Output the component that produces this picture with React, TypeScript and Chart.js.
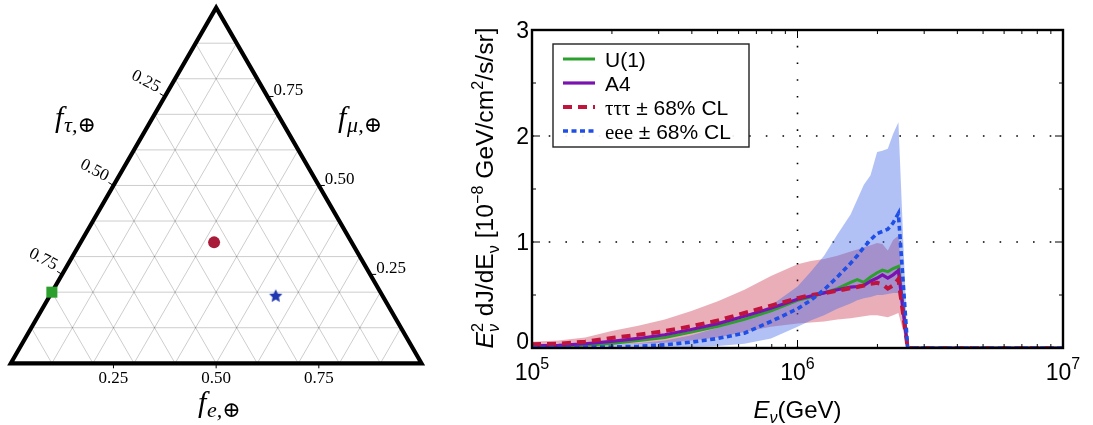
import React, { useEffect, useRef } from "react";
import { Chart, registerables } from "chart.js";

Chart.register(...registerables);

const SANS = "'Liberation Sans', Arial, sans-serif";
const SERIF = "'Liberation Serif', 'DejaVu Serif', serif";

// ---------------- Ternary (left) data ----------------
const ternaryTicks = [0.25, 0.5, 0.75];
const ternaryTickText = ["0.25", "0.50", "0.75"];
const gridSteps = [0.1, 0.2, 0.3, 0.4, 0.5, 0.6, 0.7, 0.8, 0.9];
const outlineFe = [0, 1, 0, 0, 1];
const outlineFmu = [0, 0, 1, 0, 0];
const pointNames = ["square", "circle", "star"];
const pointFe = [0.0, 0.325, 0.55];
const pointFmu = [0.2, 0.34, 0.19];
const pointFtau = [0.8, 0.335, 0.26];
const pointColors = ["#2ca02c", "#a81c3a", "#1f36b0"];

// ---------------- Spectrum (right) data ----------------
const energies = [
  1.0e5, 1.259e5, 1.585e5, 1.995e5, 2.512e5, 3.162e5, 3.981e5, 5.012e5, 6.31e5, 7.943e5,
  1.0e6, 1.122e6, 1.259e6, 1.413e6, 1.585e6, 1.679e6, 1.778e6, 1.884e6, 1.995e6, 2.089e6,
  2.188e6, 2.291e6, 2.399e6, 2.6e6, 3.162e6, 1.0e7,
];
const fluxU1 = [0.01, 0.015, 0.025, 0.043, 0.07, 0.1, 0.15, 0.205, 0.27, 0.35, 0.45, 0.48, 0.52, 0.56, 0.62, 0.645, 0.62, 0.67, 0.71, 0.735, 0.72, 0.75, 0.77, 0, 0, 0];
const fluxA4 = [0.02, 0.025, 0.04, 0.063, 0.09, 0.125, 0.175, 0.23, 0.3, 0.375, 0.46, 0.49, 0.52, 0.55, 0.575, 0.58, 0.59, 0.63, 0.66, 0.69, 0.66, 0.69, 0.73, 0, 0, 0];
const fluxTau = [0.035, 0.04, 0.06, 0.095, 0.125, 0.16, 0.205, 0.26, 0.33, 0.4, 0.47, 0.5, 0.515, 0.54, 0.565, 0.575, 0.59, 0.605, 0.615, 0.6, 0.56, 0.59, 0.65, 0, 0, 0];
const fluxEee = [0.005, 0.005, 0.008, 0.01, 0.015, 0.03, 0.055, 0.09, 0.14, 0.25, 0.37, 0.45, 0.55, 0.67, 0.8, 0.87, 0.95, 1.02, 1.08, 1.1, 1.12, 1.18, 1.27, 0, 0, 0];
const tauUpper = [0.06, 0.07, 0.1, 0.16, 0.21, 0.27, 0.35, 0.44, 0.55, 0.68, 0.79, 0.82, 0.84, 0.87, 0.91, 0.93, 0.95, 0.97, 0.99, 0.98, 0.92, 1.02, 1.06, 0, 0, 0];
const tauLower = [0.01, 0.012, 0.02, 0.03, 0.04, 0.05, 0.07, 0.1, 0.15, 0.2, 0.23, 0.24, 0.25, 0.27, 0.28, 0.29, 0.3, 0.31, 0.31, 0.3, 0.29, 0.31, 0.33, 0, 0, 0];
const eeeUpper = [0.01, 0.012, 0.02, 0.03, 0.045, 0.07, 0.12, 0.19, 0.28, 0.4, 0.58, 0.72, 0.87, 1.07, 1.26, 1.4, 1.54, 1.63, 1.85, 1.86, 1.88, 2.02, 2.13, 0, 0, 0];
const eeeLower = [0, 0, 0, 0, 0, 0.005, 0.01, 0.02, 0.04, 0.09, 0.2, 0.26, 0.31, 0.37, 0.42, 0.45, 0.47, 0.48, 0.5, 0.5, 0.51, 0.52, 0.52, 0, 0, 0];

const legendNames = ["U(1)", "A4", "τττ", "eee"];
const legendSuffix = ["", "", " ± 68% CL", " ± 68% CL"];
const xMajorTicks = [1e5, 1e6, 1e7];
const xTickExp = ["5", "6", "7"];
const xMinorTicks = [2e5, 3e5, 4e5, 5e5, 6e5, 7e5, 8e5, 9e5, 2e6, 3e6, 4e6, 5e6, 6e6, 7e6, 8e6, 9e6];
const yMajorTicks = [0, 1, 2, 3];
const yMinorTicks = [0.5, 1.5, 2.5];
const xGridValues = [1e6];
const yGridValues = [1, 2];

// ---------------- helpers ----------------
const SQ3 = Math.sqrt(3) / 2;
function toXY(fe: number, fmu: number) {
  return { x: fe + fmu / 2, y: fmu * SQ3 };
}

type Run = { t: string; size: number; italic?: boolean; family?: string; dy?: number; hold?: boolean };
function fontOf(r: Run) {
  return `${r.italic ? "italic " : ""}${r.size}px ${r.family || SANS}`;
}
function runsWidth(ctx: CanvasRenderingContext2D, runs: Run[]) {
  let total = 0;
  let holdW = 0;
  for (const r of runs) {
    ctx.font = fontOf(r);
    const w = ctx.measureText(r.t).width;
    if (r.hold) holdW = w;
    else {
      total += Math.max(w, holdW);
      holdW = 0;
    }
  }
  return total;
}
function drawRuns(ctx: CanvasRenderingContext2D, runs: Run[], x: number, y: number, align: string) {
  const total = runsWidth(ctx, runs);
  let cx = align === "left" ? x : align === "center" ? x - total / 2 : x - total;
  let holdW = 0;
  ctx.textAlign = "left";
  ctx.textBaseline = "alphabetic";
  for (const r of runs) {
    ctx.font = fontOf(r);
    const w = ctx.measureText(r.t).width;
    ctx.fillText(r.t, cx, y + (r.dy || 0));
    if (r.hold) holdW = w;
    else {
      cx += Math.max(w, holdW);
      holdW = 0;
    }
  }
}
function seg(ctx: CanvasRenderingContext2D, x1: number, y1: number, x2: number, y2: number) {
  ctx.beginPath();
  ctx.moveTo(x1, y1);
  ctx.lineTo(x2, y2);
  ctx.stroke();
}
function makeStar(color: string, r: number) {
  const c = document.createElement("canvas");
  const s = Math.ceil(r * 2) + 2;
  c.width = s;
  c.height = s;
  const g = c.getContext("2d")!;
  g.fillStyle = color;
  g.beginPath();
  for (let i = 0; i < 10; i++) {
    const rr = i % 2 === 0 ? r : r * 0.48;
    const a = -Math.PI / 2 + (i * Math.PI) / 5;
    g.lineTo(s / 2 + rr * Math.cos(a), s / 2 + rr * Math.sin(a) + 0.5);
  }
  g.closePath();
  g.fill();
  return c;
}

// ---------------- Ternary chart ----------------
function TernaryChart() {
  const ref = useRef<HTMLCanvasElement>(null);
  useEffect(() => {
    const gridData = (fam: number) => {
      const pts: any[] = [];
      gridSteps.forEach((k) => {
        let a, b;
        if (fam === 0) {
          a = toXY(0, k);
          b = toXY(1 - k, k);
        } else if (fam === 1) {
          a = toXY(k, 0);
          b = toXY(k, 1 - k);
        } else {
          a = toXY(1 - k, 0);
          b = toXY(0, 1 - k);
        }
        pts.push(a, b, { x: a.x, y: null });
      });
      return pts;
    };
    const gridStyle = {
      showLine: true,
      borderColor: "rgba(0,0,0,0.2)",
      borderWidth: 1,
      pointRadius: 0,
      spanGaps: false,
      order: 5,
    };
    const star = makeStar(pointColors[2], 7);
    const styles: any[] = ["rect", "circle", star];
    const radii = [7.8, 6, 7];
    const markerSets = pointNames.map((n, i) => ({
      label: n,
      data: [toXY(pointFe[i], pointFmu[i])],
      pointStyle: styles[i],
      pointRadius: radii[i],
      backgroundColor: pointColors[i],
      borderColor: pointColors[i],
      borderWidth: 0,
      order: 0,
      ftau: pointFtau[i],
    }));

    const deco = {
      id: "ternDeco",
      afterDraw(chart: any) {
        const { ctx, scales } = chart;
        const sx = scales.x;
        const sy = scales.y;
        const P = (fe: number, fmu: number) => {
          const c = toXY(fe, fmu);
          return [sx.getPixelForValue(c.x), sy.getPixelForValue(c.y)];
        };
        ctx.save();
        ctx.strokeStyle = "#000";
        ctx.fillStyle = "#000";
        ctx.lineWidth = 1;
        ternaryTicks.forEach((t, i) => {
          const txt = ternaryTickText[i];
          ctx.font = `17px ${SERIF}`;
          // bottom axis (f_e)
          const [bx, by] = P(t, 0);
          seg(ctx, bx, by, bx, by + 5);
          ctx.textAlign = "center";
          ctx.textBaseline = "alphabetic";
          ctx.fillText(txt, bx, by + 20);
          // right axis (f_mu)
          const [rx, ry] = P(1 - t, t);
          seg(ctx, rx, ry, rx + 6, ry);
          ctx.textAlign = "left";
          ctx.fillText(txt, rx + 6, ry - 1.5);
          // left axis (f_tau)
          const [lx, ly] = P(0, 1 - t);
          seg(ctx, lx, ly, lx - 5, ly - 3);
          ctx.save();
          ctx.translate(lx - 19, ly - 15);
          ctx.rotate(Math.PI / 6.5);
          ctx.textAlign = "center";
          ctx.textBaseline = "middle";
          ctx.fillText(txt, 0, 0);
          ctx.restore();
        });
        const label = (sub: string, x: number, y: number) => {
          drawRuns(
            ctx,
            [
              { t: "f", size: 30, italic: true, family: SERIF },
              { t: " ", size: 3, family: SERIF },
              { t: sub, size: 22, italic: true, family: SERIF, dy: 5 },
            ],
            x,
            y,
            "left"
          );
        };
        label("τ,⊕", 55, 127);
        label("μ,⊕", 338, 127);
        label("e,⊕", 198, 412);
        ctx.restore();
      },
    };

    const chart = new Chart(ref.current!, {
      type: "scatter",
      data: {
        datasets: [
          ...markerSets,
          {
            label: "outline",
            data: outlineFe.map((fe, i) => toXY(fe, outlineFmu[i])),
            showLine: true,
            borderColor: "#000",
            borderWidth: 4.2,
            borderJoinStyle: "miter",
            borderCapStyle: "butt",
            pointRadius: 0,
            order: 2,
          },
          { label: "g0", data: gridData(0), ...gridStyle },
          { label: "g1", data: gridData(1), ...gridStyle },
          { label: "g2", data: gridData(2), ...gridStyle },
        ] as any,
      },
      options: {
        animation: false,
        responsive: false,
        maintainAspectRatio: false,
        events: [],
        layout: { padding: 0, autoPadding: false },
        plugins: { legend: { display: false }, tooltip: { enabled: false } },
        scales: {
          x: { type: "linear", display: false, min: -10.8 / 410.7, max: (440 - 10.8) / 410.7 },
          y: { type: "linear", display: false, min: -61.7 / 410.7, max: 363.3 / 410.7 },
        },
      },
      plugins: [deco],
    });
    return () => chart.destroy();
  }, []);
  return (
    <canvas
      ref={ref}
      width={440}
      height={425}
      style={{ position: "absolute", left: 0, top: 0, width: 440, height: 425 }}
    />
  );
}

// ---------------- Spectrum chart ----------------
function SpectrumChart() {
  const ref = useRef<HTMLCanvasElement>(null);
  useEffect(() => {
    const pts = (arr: number[]) => energies.map((e, i) => ({ x: e, y: arr[i] }));
    const lineColors = ["#2ca02c", "#7a12b0", "#c0143c", "#1f4fe6"];
    const lineWidths = [3, 3.2, 4, 3.6];
    const lineDash: number[][] = [[], [], [9, 6], [5, 3.5]];
    const series = [fluxU1, fluxA4, fluxTau, fluxEee];

    const deco = {
      id: "specDeco",
      beforeDatasetsDraw(chart: any) {
        const { ctx, chartArea: a, scales } = chart;
        ctx.save();
        ctx.strokeStyle = "#000";
        ctx.lineWidth = 1.6;
        ctx.setLineDash([1.6, 15.1]);
        xGridValues.forEach((v) => {
          const px = scales.x.getPixelForValue(v);
          seg(ctx, px, a.bottom, px, a.top);
        });
        yGridValues.forEach((v) => {
          const py = scales.y.getPixelForValue(v);
          seg(ctx, a.left, py, a.right, py);
        });
        ctx.restore();
      },
      afterDraw(chart: any) {
        const { ctx, chartArea: a, scales } = chart;
        const sx = scales.x;
        const sy = scales.y;
        ctx.save();
        ctx.strokeStyle = "#000";
        ctx.lineWidth = 1;
        // ticks (inside)
        xMajorTicks.forEach((v) => {
          const px = sx.getPixelForValue(v);
          seg(ctx, px, a.bottom, px, a.bottom - 8);
          seg(ctx, px, a.top, px, a.top + 8);
        });
        xMinorTicks.forEach((v) => {
          const px = sx.getPixelForValue(v);
          seg(ctx, px, a.bottom, px, a.bottom - 4);
          seg(ctx, px, a.top, px, a.top + 4);
        });
        yMajorTicks.forEach((v) => {
          const py = sy.getPixelForValue(v);
          seg(ctx, a.left, py, a.left + 8, py);
          seg(ctx, a.right, py, a.right - 8, py);
        });
        yMinorTicks.forEach((v) => {
          const py = sy.getPixelForValue(v);
          seg(ctx, a.left, py, a.left + 4, py);
          seg(ctx, a.right, py, a.right - 4, py);
        });
        // frame
        ctx.lineWidth = 2.4;
        ctx.strokeRect(a.left, a.top, a.right - a.left, a.bottom - a.top);

        // tick labels
        ctx.fillStyle = "#000";
        yMajorTicks.forEach((v) => {
          const py = sy.getPixelForValue(v);
          drawRuns(ctx, [{ t: String(v), size: 23 }], a.left - 3, Math.min(py + 8, a.bottom + 1), "right");
        });
        xMajorTicks.forEach((v, i) => {
          const px = sx.getPixelForValue(v);
          drawRuns(
            ctx,
            [
              { t: "10", size: 23 },
              { t: xTickExp[i], size: 16, dy: -11 },
            ],
            px,
            a.bottom + 32,
            "center"
          );
        });
        // x title
        drawRuns(
          ctx,
          [
            { t: "E", size: 24, italic: true },
            { t: "ν", size: 16, italic: true, dy: 5 },
            { t: "(GeV)", size: 24 },
          ],
          (a.left + a.right) / 2,
          a.bottom + 70,
          "center"
        );
        // y title (rotated), fitted to its span
        const yRuns = (s: number): Run[] => [
          { t: "E", size: s, italic: true },
          { t: "2", size: s * 0.66, dy: -s * 0.42, hold: true },
          { t: "ν", size: s * 0.66, italic: true, dy: s * 0.25 },
          { t: " dJ/dE", size: s },
          { t: "ν", size: s * 0.66, dy: s * 0.25 },
          { t: " [10", size: s },
          { t: "−8", size: s * 0.66, dy: -s * 0.42 },
          { t: " GeV/cm", size: s },
          { t: "2", size: s * 0.66, dy: -s * 0.42 },
          { t: "/s/sr]", size: s },
        ];
        const w0 = runsWidth(ctx, yRuns(22));
        const s = Math.max(19, Math.min(26, (22 * 321) / w0));
        ctx.save();
        ctx.translate(a.left - 39, (a.top + a.bottom) / 2 - 1);
        ctx.rotate(-Math.PI / 2);
        drawRuns(ctx, yRuns(s), 0, 0, "center");
        ctx.restore();

        // legend
        const lx = a.left + 21;
        const ly = a.top + 14;
        ctx.fillStyle = "rgba(255,255,255,0.92)";
        ctx.fillRect(lx, ly, 196, 103);
        ctx.strokeStyle = "#222";
        ctx.lineWidth = 1.4;
        ctx.strokeRect(lx, ly, 196, 103);
        legendNames.forEach((n, i) => {
          const yy = ly + 15 + 24 * i;
          ctx.strokeStyle = lineColors[i];
          ctx.lineWidth = lineWidths[i];
          ctx.setLineDash(lineDash[i]);
          seg(ctx, lx + 10, yy, lx + 42, yy);
          ctx.setLineDash([]);
          ctx.fillStyle = "#000";
          const runs: Run[] = [{ t: n, size: 21, family: i >= 2 ? SERIF : SANS }];
          if (legendSuffix[i]) runs.push({ t: legendSuffix[i], size: 21 });
          drawRuns(ctx, runs, lx + 52, yy + 7.5, "left");
        });
        ctx.restore();
      },
    };

    const chart = new Chart(ref.current!, {
      type: "line",
      data: {
        datasets: [
          {
            label: "tauUpper",
            data: pts(tauUpper),
            borderWidth: 0,
            borderColor: "rgba(0,0,0,0)",
            backgroundColor: "rgba(196, 30, 58, 0.36)",
            fill: "+1",
            pointRadius: 0,
            order: 10,
          },
          {
            label: "tauLower",
            data: pts(tauLower),
            borderWidth: 0,
            borderColor: "rgba(0,0,0,0)",
            fill: false,
            pointRadius: 0,
            order: 10,
          },
          {
            label: "eeeUpper",
            data: pts(eeeUpper),
            borderWidth: 0,
            borderColor: "rgba(0,0,0,0)",
            backgroundColor: "rgba(60, 100, 230, 0.4)",
            fill: "+1",
            pointRadius: 0,
            order: 9,
          },
          {
            label: "eeeLower",
            data: pts(eeeLower),
            borderWidth: 0,
            borderColor: "rgba(0,0,0,0)",
            fill: false,
            pointRadius: 0,
            order: 9,
          },
          ...series.map((arr, i) => ({
            label: legendNames[i],
            data: pts(arr),
            borderColor: lineColors[i],
            borderWidth: lineWidths[i],
            borderDash: lineDash[i],
            fill: false,
            pointRadius: 0,
            tension: 0,
            order: 4 - i,
          })),
        ] as any,
      },
      options: {
        animation: false,
        responsive: false,
        maintainAspectRatio: false,
        events: [],
        layout: { padding: { left: 92, right: 30, top: 30, bottom: 77 }, autoPadding: false },
        plugins: { legend: { display: false }, tooltip: { enabled: false } },
        scales: {
          x: { type: "logarithmic", display: false, min: 1e5, max: 1e7 },
          y: { type: "linear", display: false, min: 0, max: 3 },
        },
      },
      plugins: [deco],
    });
    return () => chart.destroy();
  }, []);
  return (
    <canvas
      ref={ref}
      width={653}
      height={425}
      style={{ position: "absolute", left: 440, top: 0, width: 653, height: 425 }}
    />
  );
}

export default function App() {
  return (
    <div
      style={{
        position: "absolute",
        left: 0,
        top: 0,
        width: 1093,
        height: 425,
        background: "#fff",
        overflow: "hidden",
      }}
    >
      <TernaryChart />
      <SpectrumChart />
    </div>
  );
}
